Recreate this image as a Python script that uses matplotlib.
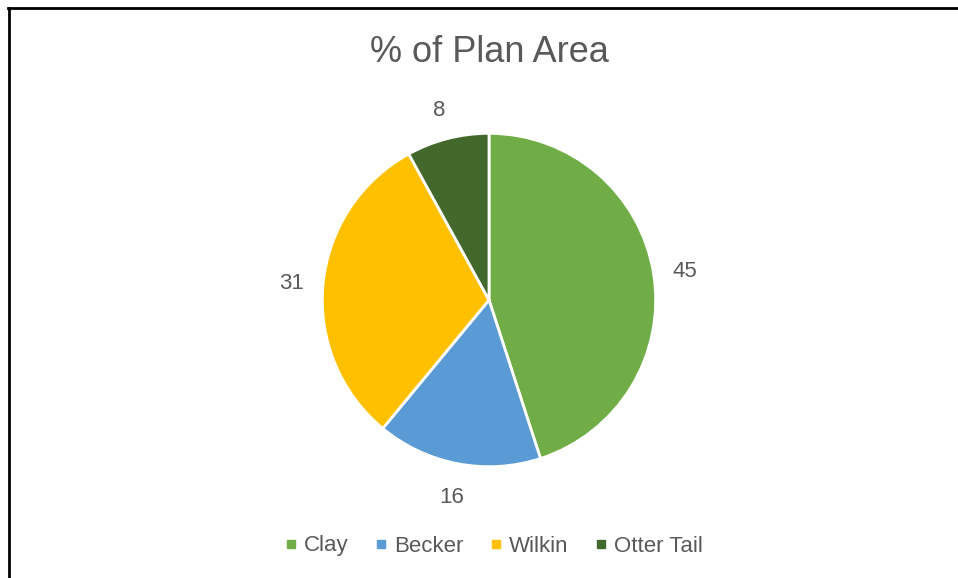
import matplotlib
matplotlib.use("Agg")
import matplotlib.pyplot as plt
from matplotlib.lines import Line2D

# Data

labels = ["Clay", "Becker", "Wilkin", "Otter Tail"]
values = [45, 16, 31, 8]
colors = ["#70AD47", "#5B9BD5", "#FFC000", "#43682B"]

plt.rcParams["font.family"] = ["Liberation Sans", "DejaVu Sans"]
text_color = "#595959"

W, H = 958, 578
fig = plt.figure(figsize=(W / 100, H / 100), dpi=100)

# Pie axes: center (489, 300) px, radius ~167 px
cx, cy, half = 489, 300, 200
ax = fig.add_axes([(cx - half) / W, (H - cy - half) / H, 2 * half / W, 2 * half / H])

ax.pie(
    values,
    colors=colors,
    startangle=90,
    counterclock=False,
    radius=1,
    labels=[str(v) for v in values],
    labeldistance=1.19,
    wedgeprops=dict(edgecolor="white", linewidth=2),
    textprops=dict(color=text_color, fontsize=16, ha="center", va="center_baseline"),
)
ax.set_xlim(-1.2, 1.2)
ax.set_ylim(-1.2, 1.2)
ax.set_aspect("equal")
ax.axis("off")

# Title

fig.text(cx / W, 1 - 62 / H, "% of Plan Area",
         ha="center", va="baseline", fontsize=26, color=text_color)

# Legend

handles = [
    Line2D([], [], marker="s", linestyle="none", markersize=5.8,
           markerfacecolor=c, markeredgecolor=c)
    for c in colors
]
fig.legend(
    handles, labels,
    loc="center", bbox_to_anchor=(494 / W, 1 - 546 / H),
    ncol=4, frameon=False, fontsize=16,
    handletextpad=0.34, columnspacing=1.2, handlelength=0.5,
    labelcolor=text_color, borderaxespad=0,
)

# Border (top and left edges only visible)

fig.add_artist(Line2D([8 / W, 1], [1 - 8 / H, 1 - 8 / H],
                      transform=fig.transFigure, color="black", linewidth=2.0))
fig.add_artist(Line2D([9 / W, 9 / W], [0, 1 - 8 / H],
                      transform=fig.transFigure, color="black", linewidth=2.0))

fig.savefig("out.png", dpi=100, facecolor="white")
